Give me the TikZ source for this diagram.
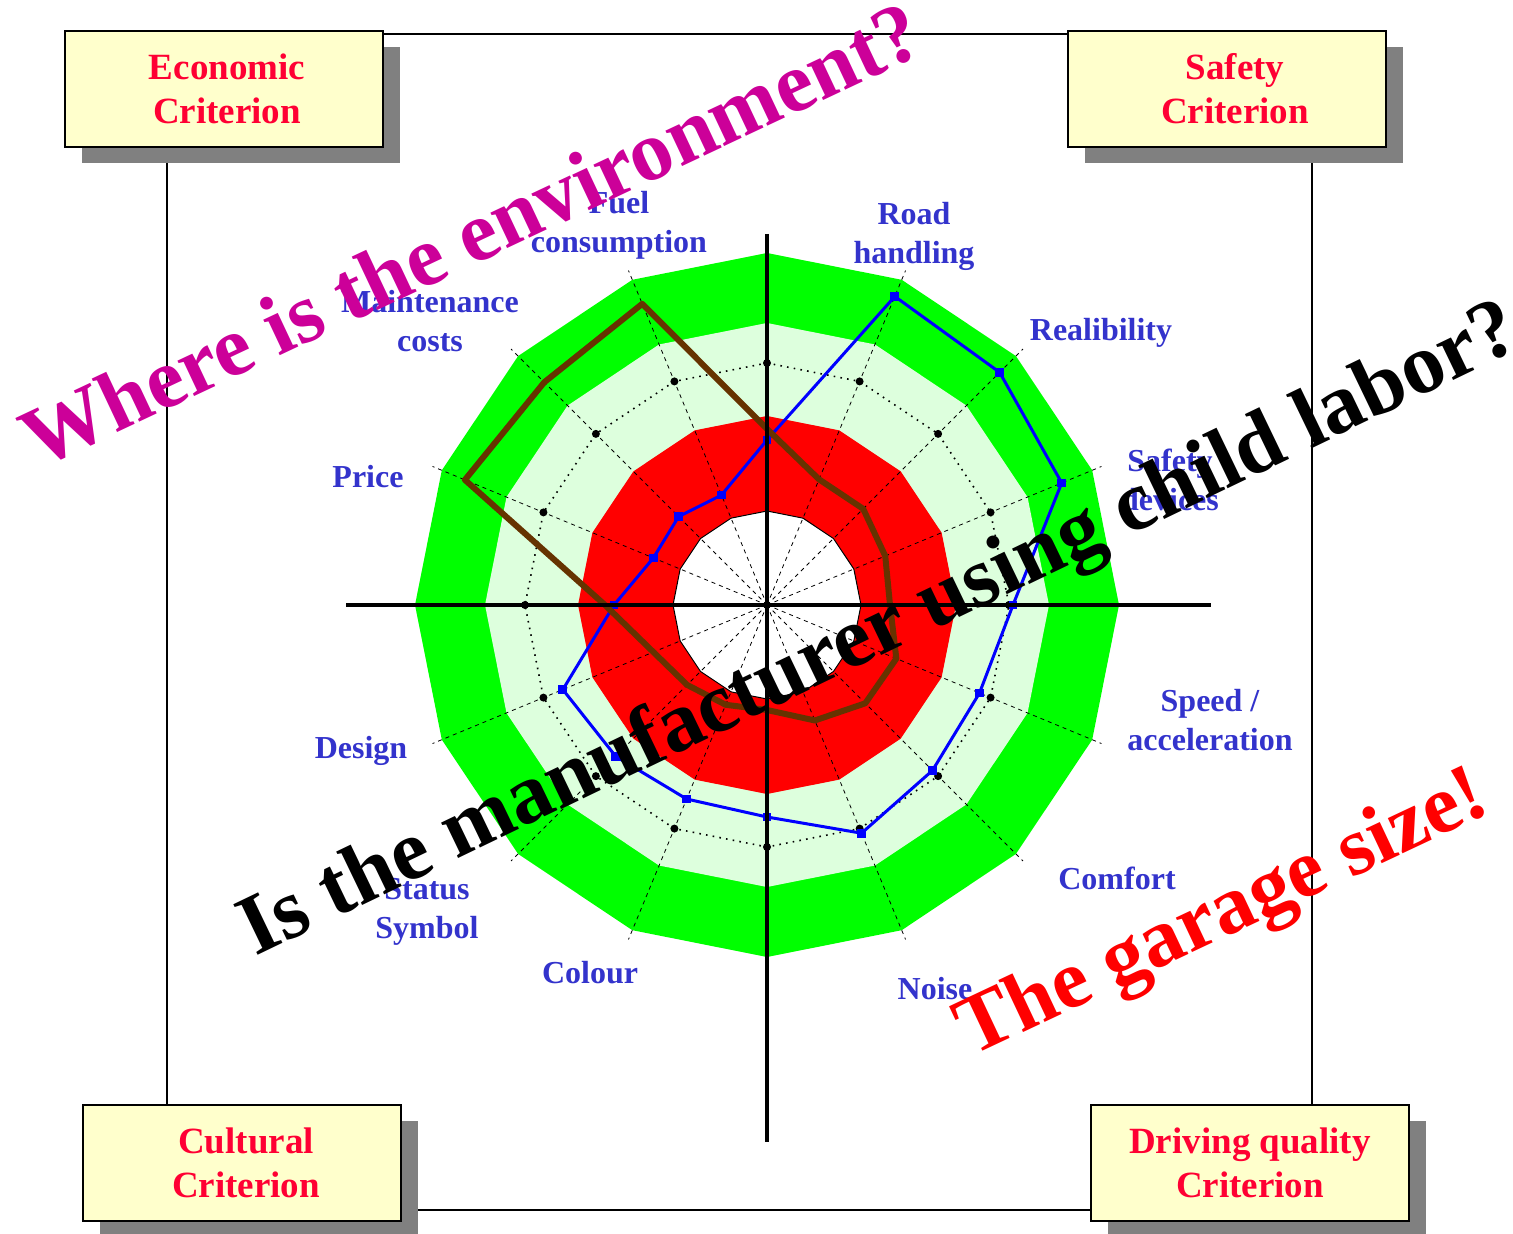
\documentclass[tikz,border=0pt]{standalone}
\usepackage{fontspec}
\setmainfont{Liberation Serif}
\usetikzlibrary{shadows}
\definecolor{ringgreen}{RGB}{0,255,0}
\definecolor{palegreen}{RGB}{221,255,221}
\definecolor{ringred}{RGB}{255,0,0}
\definecolor{boxfill}{RGB}{255,255,204}
\definecolor{boxtext}{RGB}{255,0,51}
\definecolor{labelblue}{RGB}{51,51,204}
\definecolor{brownline}{RGB}{102,51,0}
\definecolor{magentatext}{RGB}{204,0,153}
\definecolor{shadowgray}{RGB}{128,128,128}
\begin{document}
\begin{tikzpicture}[x=0.5pt,y=-0.5pt,
  critbox/.style={draw=black, line width=1.4pt, fill=boxfill,
    minimum width=159pt, minimum height=58pt, inner sep=0pt, align=center,
    text=boxtext, font=\fontsize{18.5pt}{22pt}\selectfont\bfseries,
    drop shadow={shadow xshift=8.5pt, shadow yshift=-8pt, fill=shadowgray, opacity=1}},
  labeltext/.style={text=labelblue, font=\fontsize{16pt}{19.5pt}\selectfont\bfseries,
    align=center, inner sep=0pt},
  bigtext/.style={font=\fontsize{42.6pt}{46pt}\selectfont\bfseries, inner sep=0pt, anchor=base west},
  framerule/.style={draw=black, line width=1pt},
  axisline/.style={draw=black, line width=2pt},
  radial/.style={draw=black, line width=0.4pt, dash pattern=on 2pt off 2pt},
  ringdots/.style={draw=black, line width=0.8pt, dash pattern=on 0.8pt off 2.6pt},
  blueseries/.style={draw=blue, line width=1.5pt, line join=round},
  brownseries/.style={draw=brownline, line width=3pt, line join=round}]
\useasboundingbox (0,0) rectangle (1513,1234);
% frame
\draw[framerule] (167,34) rectangle (1312,1210);
% criterion boxes
\node[critbox] (econ) at (224,89) {\hspace*{3pt}Economic\\\hspace*{3pt}Criterion};
\node[critbox] (safety) at (1227,89) {\hspace*{8pt}Safety\\\hspace*{8pt}Criterion};
\node[critbox] (cultural) at (242,1163) {\hspace*{4pt}Cultural\\\hspace*{4pt}Criterion};
\node[critbox] (driving) at (1250,1163) {Driving quality\\Criterion};
% radar chart
\begin{scope}[shift={(767,605)}, yscale=-1]
  \fill[ringgreen] (90:352) \foreach \k in {1,...,15}{ -- (90-22.5*\k:352)} -- cycle;
  \fill[palegreen] (90:282) \foreach \k in {1,...,15}{ -- (90-22.5*\k:282)} -- cycle;
  \fill[ringred] (90:189) \foreach \k in {1,...,15}{ -- (90-22.5*\k:189)} -- cycle;
  \filldraw[fill=white, draw=black, line width=0.5pt] (90:94) \foreach \k in {1,...,15}{ -- (90-22.5*\k:94)} -- cycle;
  \coordinate (c) at (0,0);
  \foreach \k in {0,...,15} \draw[radial] (c) -- (90-22.5*\k:362);
  \draw[ringdots] (90:242) \foreach \k in {1,...,15}{ -- (90-22.5*\k:242)} -- cycle;
  \foreach \k in {0,...,15} \fill[black] (90-22.5*\k:242) circle (2pt);
  % blue series
  \foreach \r [count=\i from 0] in {165,334,329,319,246,230,234,247,212,210,214,221,153,123,125,119}
    \coordinate (b\i) at (90-22.5*\i:\r);
  \draw[blueseries] (b0) \foreach \i in {1,...,15}{ -- (b\i)} -- cycle;
  \foreach \i in {0,...,15} \fill[blue] (b\i) ++(-2.2pt,-2.2pt) rectangle ++(4.4pt,4.4pt);
  % brown series
  \foreach \r [count=\i from 0] in {176,136,136,128,123,140,139,125,105,108,113,123,162,327,315,326}
    \coordinate (w\i) at (90-22.5*\i:\r);
  \draw[brownseries] (w0) \foreach \i in {1,...,15}{ -- (w\i)} -- cycle;
\end{scope}
% axes
\coordinate (axL) at (346,605);
\coordinate (axR) at (1211,605);
\coordinate (axT) at (767,234);
\coordinate (axB) at (767,1142);
\draw[axisline] (axL) -- (axR);
\draw[axisline] (axT) -- (axB);
% axis labels
\node[labeltext] (fuel) at (619,225) {Fuel\\consumption};
\node[labeltext] (road) at (914,236) {Road\\handling};
\node[labeltext] (maint) at (430,321) {Maintenance\\costs};
\node[labeltext] (reli) at (1101,333) {Realibility};
\node[labeltext] (safedev) at (1170,480) {Safety\\devices};
\node[labeltext] (price) at (368,477) {Price};
\node[labeltext] (speed) at (1210,720) {Speed /\\acceleration};
\node[labeltext] (design) at (361,751) {Design};
\node[labeltext] (comfort) at (1117,878) {Comfort};
\node[labeltext] (status) at (427,912) {Status\\Symbol};
\node[labeltext] (colour) at (590,973) {Colour};
\node[labeltext] (noise) at (935,989) {Noise};
% big rotated questions
\node[bigtext, text=magentatext, rotate=25.2] (envq) at (38,470) {Where is the environment?};
\node[bigtext, text=black, rotate=25.7, font=\fontsize{42.8pt}{46pt}\selectfont\bfseries] (childq) at (255,957) {Is the manufacturer using child labor?};
\node[bigtext, text=red, rotate=25.2, font=\fontsize{41.5pt}{45pt}\selectfont\bfseries] (garageq) at (971,1057) {The garage size!};
\end{tikzpicture}
\end{document}
